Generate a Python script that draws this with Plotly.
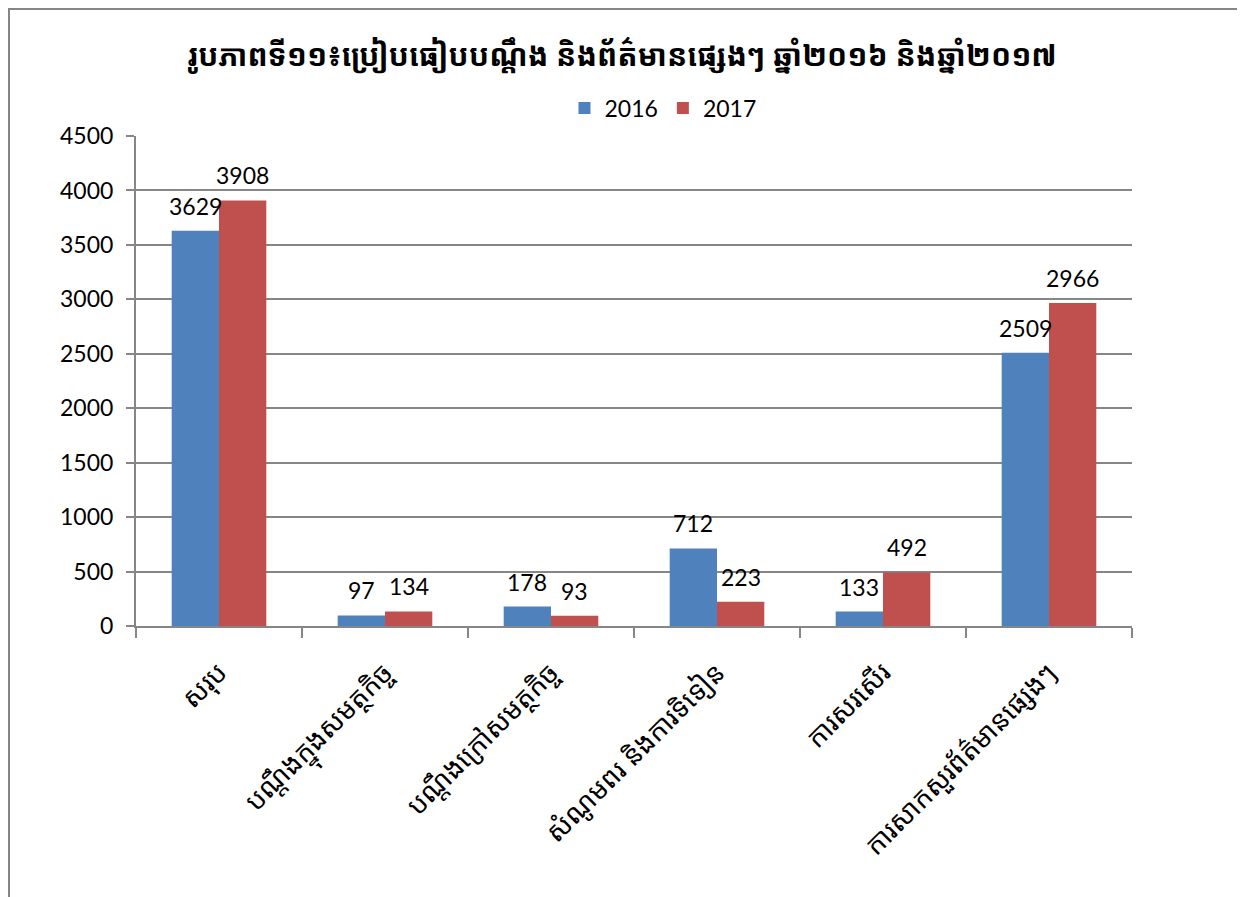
import plotly.graph_objects as go

categories = [
    "សរុប",
    "បណ្តឹងក្នុងសមត្ថកិច្ច",
    "បណ្តឹងក្រៅសមត្ថកិច្ច",
    "សំណូមពរ និងការទិទៀន",
    "ការសរសើរ",
    "ការសាកសួរព័ត៌មានផ្សេងៗ",
]
series_names = ["2016", "2017"]
values_2016 = [3629, 97, 178, 712, 133, 2509]
values_2017 = [3908, 134, 93, 223, 492, 2966]
title_text = "រូបភាពទី១១៖ប្រៀបធៀបបណ្តឹង និងព័ត៌មានផ្សេងៗ ឆ្នាំ២០១៦ និងឆ្នាំ២០១៧"

colors = ["#4F81BD", "#C0504D"]
num_font = "Lato, 'Open Sans', 'DejaVu Sans', sans-serif"
khmer_font = "'Noto Sans Khmer', 'Khmer OS', 'Noto Serif Khmer', 'Khmer OS System', sans-serif"

W, H = 1245, 897
OFF = 8  # page body margin
# plot area in page pixels: x 136..1132, y 136..626
L = 136 - OFF
T = 136 - OFF
R = W - (1132 - OFF)
B = H - (626 - OFF)
pw, ph = W - L - R, H - T - B
bargap = 0.43

def px_x(p):  # page px -> paper
    return (p - OFF - L) / pw

def px_y(p):
    return (H - B - (p - OFF)) / ph

fig = go.Figure()
for name, vals, col in zip(series_names, [values_2016, values_2017], colors):
    fig.add_trace(go.Bar(
        x=categories, y=vals, name=name,
        marker=dict(color=col, line=dict(width=0)),
        cliponaxis=False,
    ))

# data labels as annotations above each bar
cat_w = pw / len(categories)
bar_w = cat_w * (1 - bargap) / 2
annotations = []
for si, vals in enumerate([values_2016, values_2017]):
    shift = (-0.5 if si == 0 else 0.5) * bar_w
    for c, v in zip(categories, vals):
        annotations.append(dict(
            x=c, y=v, xref="x", yref="y", text=str(v), showarrow=False,
            xanchor="center", yanchor="bottom", xshift=shift, yshift=9,
            font=dict(family=num_font, size=23, color="#000000"),
        ))

fig.update_layout(
    width=W, height=H,
    margin=dict(l=L, r=R, t=T, b=B),
    paper_bgcolor="white", plot_bgcolor="white",
    barmode="group", bargap=bargap, bargroupgap=0,
    title=dict(text="<b>" + title_text + "</b>", x=px_x(622), xanchor="center", xref="paper",
               y=1 - (55 - OFF) / H, yanchor="middle",
               font=dict(family=khmer_font, size=30, color="#000000")),
    legend=dict(orientation="h", x=px_x(663), xanchor="center", y=px_y(108), yanchor="middle",
                font=dict(family=num_font, size=23, color="#000000"),
                itemwidth=30, traceorder="normal"),
    showlegend=True,
    annotations=annotations,
    xaxis=dict(
        type="category", showgrid=False, showline=True, linecolor="#868686", linewidth=2,
        ticks="outside", tickson="boundaries", ticklen=10, tickcolor="#868686", tickwidth=2,
        tickangle=-45, ticklabelstandoff=18,
        tickfont=dict(family=khmer_font, size=27, color="#000000"),
    ),
    yaxis=dict(
        range=[0, 4500], dtick=500, showgrid=True, gridcolor="#868686", gridwidth=1.5,
        showline=True, linecolor="#868686", linewidth=2, ticks="outside", ticklen=8,
        tickcolor="#868686", tickwidth=2, zeroline=False, ticklabelstandoff=8,
        tickfont=dict(family=num_font, size=23, color="#000000"),
    ),
    shapes=[dict(type="rect", xref="paper", yref="paper",
                 x0=px_x(OFF + 1), x1=px_x(1243), y0=px_y(940), y1=px_y(OFF + 1),
                 line=dict(color="#868686", width=2), fillcolor="rgba(0,0,0,0)", layer="below")],
)

fig.write_html("out.html")
